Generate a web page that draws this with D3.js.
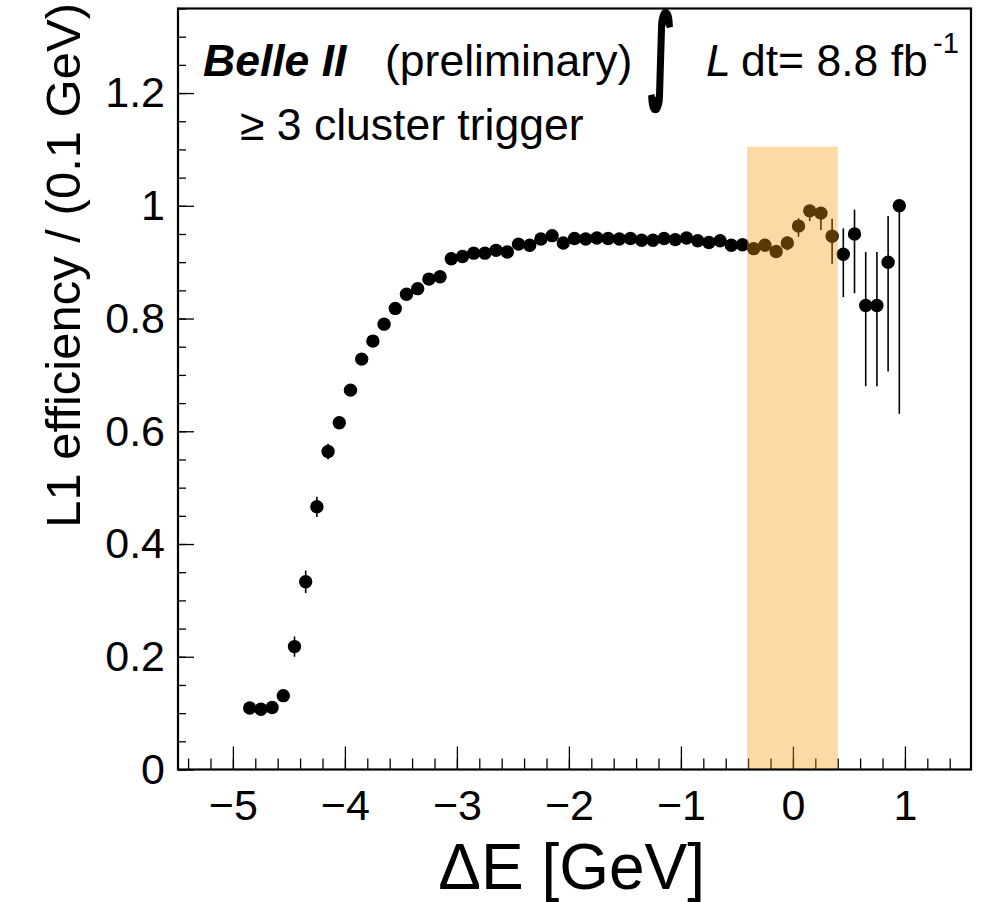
<!DOCTYPE html>
<html><head><meta charset="utf-8">
<script src="https://cdn.jsdelivr.net/npm/d3@7"></script>
<style>body{margin:0;background:#fff} svg{display:block}</style>
</head><body><svg id="c" width="982" height="902"></svg>
<script>
// ---- data ----
const binCenters = [-4.85,-4.75,-4.65,-4.55,-4.45,-4.35,-4.25,-4.15,-4.05,-3.95,
  -3.85,-3.75,-3.65,-3.55,-3.45,-3.35,-3.25,-3.15,-3.05,-2.95,
  -2.85,-2.75,-2.65,-2.55,-2.45,-2.35,-2.25,-2.15,-2.05,-1.95,
  -1.85,-1.75,-1.65,-1.55,-1.45,-1.35,-1.25,-1.15,-1.05,-0.95,
  -0.85,-0.75,-0.65,-0.55,-0.45,-0.35,-0.25,-0.15,-0.05,0.05,
  0.15,0.25,0.35,0.45,0.55,0.65,0.75,0.85,0.95];
const efficiency = [0.109,0.107,0.110,0.131,0.218,0.333,0.466,0.564,0.615,0.673,
  0.728,0.760,0.790,0.818,0.843,0.853,0.870,0.874,0.906,0.910,
  0.916,0.916,0.921,0.918,0.932,0.930,0.941,0.947,0.934,0.942,
  0.941,0.943,0.942,0.941,0.942,0.939,0.939,0.942,0.940,0.943,
  0.938,0.935,0.938,0.930,0.931,0.924,0.930,0.919,0.934,0.964,
  0.991,0.987,0.946,0.914,0.950,0.823,0.823,0.900,1.000];
const errLow = [0.006,0.006,0.006,0.007,0.018,0.020,0.018,0.014,0.011,0.010,
  0.009,0.008,0.008,0.007,0.007,0.007,0.006,0.006,0.006,0.006,
  0.006,0.006,0.006,0.006,0.006,0.006,0.006,0.006,0.006,0.006,
  0.006,0.006,0.006,0.006,0.006,0.006,0.006,0.006,0.006,0.006,
  0.006,0.006,0.006,0.007,0.007,0.008,0.009,0.010,0.013,0.019,
  0.018,0.030,0.049,0.076,0.105,0.143,0.143,0.194,0.369];
const errHigh = [0.006,0.006,0.006,0.007,0.018,0.020,0.018,0.014,0.011,0.010,
  0.009,0.008,0.008,0.007,0.007,0.007,0.006,0.006,0.006,0.006,
  0.006,0.006,0.006,0.006,0.006,0.006,0.006,0.006,0.006,0.006,
  0.006,0.006,0.006,0.006,0.006,0.006,0.006,0.006,0.006,0.006,
  0.006,0.006,0.006,0.007,0.007,0.008,0.009,0.010,0.012,0.014,
  0.007,0.008,0.031,0.046,0.043,0.095,0.095,0.082,0.000];
const xTickValues = [-5,-4,-3,-2,-1,0,1];
const xTickLabels = ["\u22125","\u22124","\u22123","\u22122","\u22121","0","1"];
const yTickValues = [0,0.2,0.4,0.6,0.8,1,1.2];
const yTickLabels = ["0","0.2","0.4","0.6","0.8","1","1.2"];
const signalWindow = [-0.41, 0.40];
const signalWindowTop = 1.105;
const xDomain = [-5.49, 1.59];
const yDomain = [0, 1.35];

// ---- drawing ----
const svg = d3.select("#c");
const FONT = "'Liberation Sans', Arial, Helvetica, sans-serif";
const L = 178, R = 971, T = 8.5, B = 769.5;
const x = d3.scaleLinear().domain(xDomain).range([L, R]);
const y = d3.scaleLinear().domain(yDomain).range([B, T]);

// minor ticks
const xMinor = d3.range(-5.4, 1.59, 0.2).map(v => +v.toFixed(2));
const yMinor = d3.range(0, 1.351, 0.05).map(v => +v.toFixed(2));

const gx = svg.append("g").attr("transform", `translate(0,${B})`);
gx.call(d3.axisBottom(x).tickValues(xMinor).tickSizeInner(-11).tickSizeOuter(0).tickFormat(""));
const gxM = svg.append("g").attr("transform", `translate(0,${B})`);
gxM.call(d3.axisBottom(x).tickValues(xTickValues).tickSizeInner(-23).tickSizeOuter(0).tickPadding(20)
  .tickFormat((d, i) => xTickLabels[i]));
const gy = svg.append("g").attr("transform", `translate(${L},0)`);
gy.call(d3.axisLeft(y).tickValues(yMinor).tickSizeInner(-8).tickSizeOuter(0).tickFormat(""));
const gyM = svg.append("g").attr("transform", `translate(${L},0)`);
gyM.call(d3.axisLeft(y).tickValues(yTickValues).tickSizeInner(-16).tickSizeOuter(0).tickPadding(13)
  .tickFormat((d, i) => yTickLabels[i]));
svg.selectAll(".domain").remove();
svg.selectAll(".tick line").attr("stroke", "#000").attr("stroke-width", 1.3);
svg.selectAll(".tick text").attr("font-family", FONT).attr("font-size", 43).attr("fill", "#000");

// error bars
const pts = binCenters.map((c, i) => ({c, v: efficiency[i], lo: errLow[i], hi: errHigh[i]}));
svg.append("g").selectAll("line").data(pts).join("line")
  .attr("x1", d => x(d.c)).attr("x2", d => x(d.c))
  .attr("y1", d => y(d.v - d.lo)).attr("y2", d => y(d.v + d.hi))
  .attr("stroke", "#000").attr("stroke-width", 1.6);
svg.append("g").selectAll("circle").data(pts).join("circle")
  .attr("cx", d => x(d.c)).attr("cy", d => y(d.v)).attr("r", 6.7).attr("fill", "#000");

// signal window band (semi-transparent overlay)
svg.append("rect")
  .attr("x", x(signalWindow[0])).attr("width", x(signalWindow[1]) - x(signalWindow[0]))
  .attr("y", y(signalWindowTop)).attr("height", y(0) - y(signalWindowTop))
  .attr("fill", "rgb(248,152,12)").attr("fill-opacity", 0.37);

// frame
svg.append("rect").attr("x", L).attr("y", T).attr("width", R - L).attr("height", B - T)
  .attr("fill", "none").attr("stroke", "#000").attr("stroke-width", 2.2);

// axis titles
svg.append("text").attr("x", 705).attr("y", 889).attr("text-anchor", "end")
  .attr("font-family", FONT).attr("font-size", 64).text("\u0394E [GeV]");
svg.append("text").attr("transform", "translate(80,3) rotate(-90)").attr("text-anchor", "end")
  .attr("font-family", FONT).attr("font-size", 49).text("L1 efficiency / (0.1 GeV)");

// annotations
const txt = (x0, y0, s, size, extra) => {
  const t = svg.append("text").attr("x", x0).attr("y", y0).attr("font-family", FONT)
    .attr("font-size", size).text(s);
  if (extra) extra(t);
  return t;
};
txt(203, 76, "Belle II", 44.5, t => t.attr("font-weight", "bold").attr("font-style", "italic"));
txt(385, 76, "(preliminary)", 44.5);

// integral sign: fit the glyph's ink box into the target box
(function () {
  const intFont = "bold 80px 'DejaVu Sans'";
  const ctx = document.createElement("canvas").getContext("2d");
  ctx.font = intFont;
  const m = ctx.measureText("\u222B");
  const bL = m.actualBoundingBoxLeft, bR = m.actualBoundingBoxRight;
  const asc = m.actualBoundingBoxAscent, desc = m.actualBoundingBoxDescent;
  const box = {x0: 649, x1: 672, y0: 10, y1: 112};
  const sx = (box.x1 - box.x0) / (bL + bR), sy = (box.y1 - box.y0) / (asc + desc);
  const tx = box.x0 + sx * bL, ty = box.y0 + sy * asc;
  svg.append("text").attr("transform", `translate(${tx},${ty}) scale(${sx},${sy})`)
    .attr("font-family", "'DejaVu Sans', sans-serif").attr("font-weight", "bold").attr("font-size", 80)
    .attr("stroke", "#000").attr("stroke-width", 1.8 / sx).text("\u222B");
})();

txt(706, 76, "L", 44.5, t => t.attr("font-style", "italic"));
txt(741, 76, "dt= 8.8 fb", 44.5);
txt(933, 53, "-1", 29);
txt(240, 140, "\u2265 3 cluster trigger", 44.5);
</script></body></html>
